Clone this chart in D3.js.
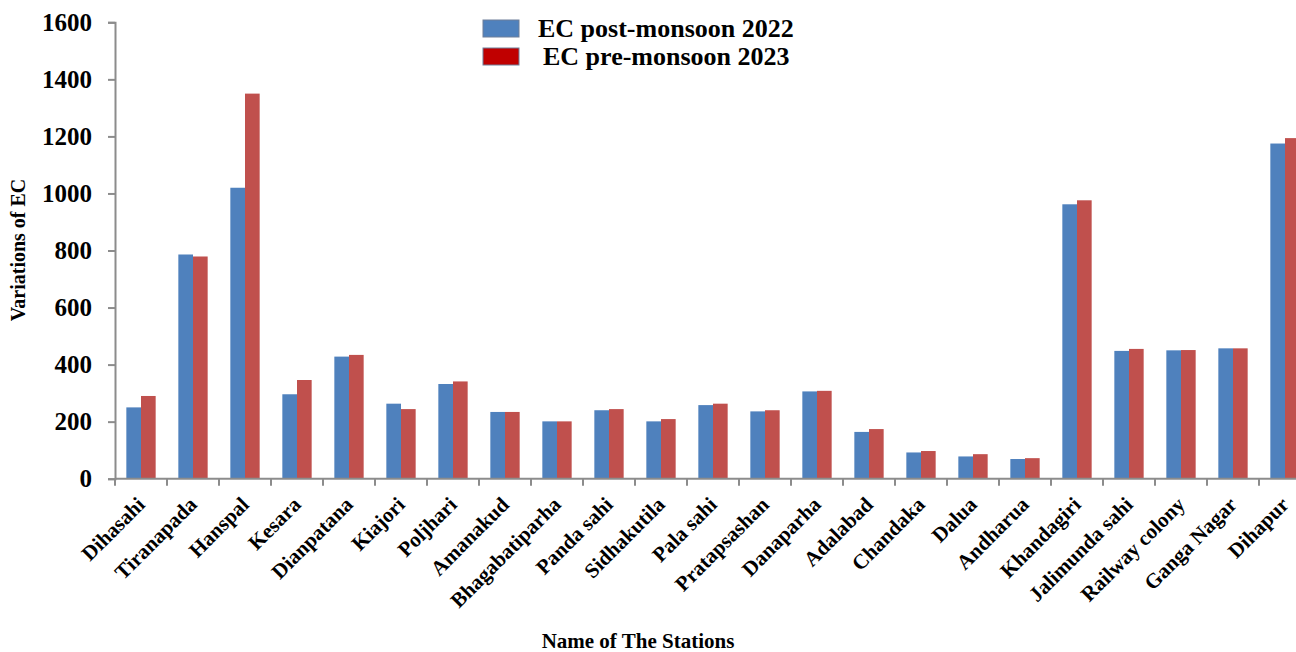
<!DOCTYPE html>
<html>
<head>
<meta charset="utf-8">
<script src="https://cdn.jsdelivr.net/npm/d3@7"></script>
<style>
  body { margin: 0; background: #fff; }
  svg { display: block; font-family: "Liberation Serif", "Times New Roman", serif; }
</style>
</head>
<body>
<svg id="chart" width="1296" height="652"></svg>
<script>
// station names and EC readings
var stations = ["Dihasahi", "Tiranapada", "Hanspal", "Kesara", "Dianpatana", "Kiajori",
  "Poljhari", "Amanakud", "Bhagabatiparha", "Panda sahi", "Sidhakutila", "Pala sahi",
  "Pratapsashan", "Danaparha", "Adalabad", "Chandaka", "Dalua", "Andharua",
  "Khandagiri", "Jalimunda sahi", "Railway colony", "Ganga Nagar", "Dihapur"];

var postMonsoon2022 = [250, 786, 1020, 296, 428, 263, 332, 234, 201, 240, 201, 258,
  236, 306, 164, 92, 78, 69, 962, 448, 450, 457, 1175];
var preMonsoon2023 = [290, 779, 1350, 346, 434, 244, 341, 234, 201, 244, 209, 263,
  240, 308, 174, 97, 86, 72, 976, 455, 451, 457, 1194];

var seriesNames = ["EC post-monsoon 2022", "EC pre-monsoon 2023"];
var yTicks = [0, 200, 400, 600, 800, 1000, 1200, 1400, 1600];

var barColors = ["#4F81BD", "#C0504D"];
var legendColors = ["#4F81BD", "#C00000"];

var svg = d3.select("#chart");
var plotLeft = 115, plotRight = 1311, plotTop = 22.3, plotBottom = 478.7;

var x = d3.scaleBand().domain(stations).range([plotLeft, plotRight]).paddingInner(0).paddingOuter(0);
var xs = d3.scaleBand().domain([0, 1]).range([0, x.bandwidth()]).paddingInner(0).paddingOuter(0.773);
var y = d3.scaleLinear().domain([0, 1600]).range([plotBottom, plotTop]);

var rows = stations.map(function(s, i) {
  return { station: s, values: [postMonsoon2022[i], preMonsoon2023[i]] };
});

// bars
var groups = svg.append("g").selectAll("g")
  .data(rows)
  .join("g")
  .attr("transform", function(d) { return "translate(" + x(d.station) + ",0)"; });

groups.selectAll("rect")
  .data(function(d) { return d.values.map(function(v, k) { return { k: k, v: v }; }); })
  .join("rect")
  .attr("x", function(d) { return xs(d.k); })
  .attr("width", xs.bandwidth())
  .attr("y", function(d) { return y(d.v); })
  .attr("height", function(d) { return plotBottom - y(d.v); })
  .attr("fill", function(d) { return barColors[d.k]; });

// y axis
var yAxis = svg.append("g")
  .attr("transform", "translate(" + plotLeft + ",0)")
  .call(d3.axisLeft(y).tickValues(yTicks).tickSize(7).tickPadding(16).tickFormat(d3.format("d")));
yAxis.select(".domain").attr("stroke", "#8c8c8c").attr("stroke-width", 2);
yAxis.selectAll(".tick line").attr("stroke", "#8c8c8c").attr("stroke-width", 2);
yAxis.selectAll(".tick text")
  .attr("fill", "#000")
  .style("font-family", "'Liberation Serif', serif")
  .style("font-size", "25px")
  .style("font-weight", "bold");

// x axis, ticks on category boundaries
var xAxis = svg.append("g").attr("transform", "translate(0," + plotBottom + ")");
xAxis.append("line")
  .attr("x1", plotLeft).attr("x2", plotRight)
  .attr("stroke", "#8c8c8c").attr("stroke-width", 2);
xAxis.selectAll(".bt")
  .data(stations)
  .join("line")
  .attr("class", "bt")
  .attr("x1", function(d) { return x(d); })
  .attr("x2", function(d) { return x(d); })
  .attr("y1", 0).attr("y2", 7)
  .attr("stroke", "#8c8c8c").attr("stroke-width", 2);
xAxis.selectAll("text")
  .data(stations)
  .join("text")
  .attr("transform", function(d) {
    return "translate(" + (x(d) + x.bandwidth() / 2) + ",22) rotate(-45)";
  })
  .attr("text-anchor", "end")
  .attr("dy", "0.35em")
  .style("font-size", "21px")
  .style("font-weight", "bold")
  .text(function(d) { return d; });

// axis titles
svg.append("text")
  .attr("transform", "translate(25,250) rotate(-90)")
  .attr("text-anchor", "middle")
  .style("font-size", "20px")
  .style("font-weight", "bold")
  .text("Variations of EC");

svg.append("text")
  .attr("x", 638).attr("y", 648)
  .attr("text-anchor", "middle")
  .style("font-size", "21px")
  .style("font-weight", "bold")
  .text("Name of The Stations");

// legend
var legend = svg.append("g").selectAll("g")
  .data(seriesNames)
  .join("g")
  .attr("transform", function(d, i) { return "translate(483," + (20 + i * 28) + ")"; });
legend.append("rect")
  .attr("width", 36).attr("height", 17)
  .attr("fill", function(d, i) { return legendColors[i]; })
  .attr("stroke", "#6f7f99").attr("stroke-width", 1);
legend.append("text")
  .attr("x", function(d, i) { return i === 0 ? 55 : 60; })
  .attr("y", 8)
  .attr("dy", "0.35em")
  .style("font-size", "26px")
  .style("font-weight", "bold")
  .text(function(d) { return d; });
</script>
</body>
</html>
